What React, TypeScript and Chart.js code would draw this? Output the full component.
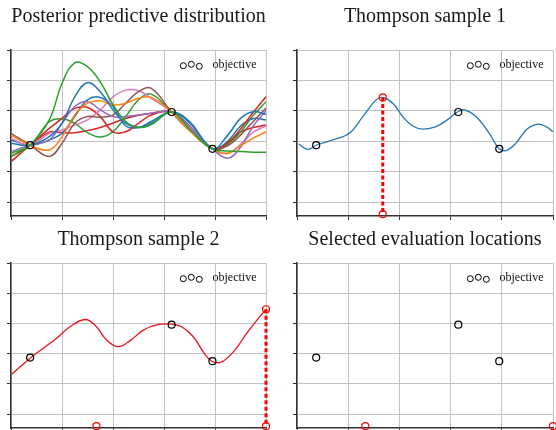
import React, { useEffect, useRef } from "react";
import { Chart, registerables } from "chart.js";

Chart.register(...registerables);

// ---------- axes ----------
const X_TICKS = [0, 0.2, 0.4, 0.6, 0.8, 1.0];
const Y_TICKS = [0, 1, 2, 3, 4, 5];
const Y_MIN = -0.46;
const Y_MAX = 5;

// ---------- observations ----------
const obsX = [0.075, 0.63, 0.79];
const obsY = [1.87, 2.96, 1.75];

// ---------- posterior samples ----------
const postX = [0, 0.075, 0.15, 0.2, 0.25, 0.3, 0.35, 0.4, 0.45, 0.5, 0.55, 0.63, 0.7, 0.79, 0.85, 0.9, 0.95, 1.0];
const postGreen1 = [1.49, 1.87, 2.7, 3.9, 4.58, 4.45, 3.95, 3.2, 2.65, 2.45, 2.55, 2.96, 2.4, 1.75, 1.68, 1.66, 1.64, 1.64];
const postBlue1 = [1.93, 1.87, 2.15, 2.59, 3.46, 3.93, 3.63, 3.03, 2.59, 2.46, 2.59, 2.96, 2.65, 1.75, 2.2, 2.75, 2.97, 2.88];
const postBlue2 = [2.04, 1.87, 2.04, 2.26, 2.81, 3.36, 3.44, 3.14, 2.5, 2.45, 2.65, 2.96, 2.6, 1.75, 2.0, 2.5, 2.75, 2.7];
const postOrange = [2.2, 1.87, 1.71, 2.15, 2.86, 3.25, 3.33, 3.19, 3.25, 3.41, 3.44, 2.96, 2.35, 1.75, 1.6, 1.85, 2.1, 2.31];
const postBrown = [2.26, 1.87, 1.5, 1.93, 2.59, 2.81, 2.79, 2.86, 3.25, 3.63, 3.74, 2.96, 2.35, 1.75, 1.85, 2.2, 2.65, 3.09];
const postPurple = [1.66, 1.87, 2.04, 2.59, 3.14, 3.3, 3.03, 2.81, 2.81, 2.86, 2.92, 2.96, 2.5, 1.75, 1.44, 1.8, 2.5, 3.0];
const postPink = [2.09, 1.87, 2.26, 2.37, 2.53, 2.7, 3.03, 3.46, 3.68, 3.66, 3.41, 2.96, 2.45, 1.75, 1.6, 1.9, 2.3, 2.5];
const postRed1 = [1.33, 1.87, 2.42, 2.75, 3.08, 3.11, 2.81, 2.31, 2.31, 2.59, 2.86, 2.96, 2.45, 1.75, 1.95, 2.4, 2.95, 3.46];
const postRed2 = [1.49, 1.87, 2.3, 2.28, 2.28, 2.35, 2.45, 2.6, 2.75, 2.85, 2.92, 2.96, 2.5, 1.75, 1.95, 2.3, 2.45, 2.53];
const postGreen2 = [1.6, 1.87, 2.64, 2.74, 2.59, 2.28, 2.14, 2.31, 2.81, 3.36, 3.55, 2.96, 2.45, 1.75, 1.9, 2.3, 2.85, 3.3];

// ---------- Thompson samples ----------
const ts1X = [0.007, 0.042, 0.077, 0.139, 0.204, 0.257, 0.309, 0.335, 0.374, 0.413, 0.452, 0.491, 0.543, 0.595, 0.628, 0.654, 0.699, 0.751, 0.788, 0.816, 0.855, 0.895, 0.94, 0.973, 1.0];
const ts1Y = [1.91, 1.73, 1.875, 2.04, 2.26, 2.81, 3.36, 3.44, 3.25, 2.81, 2.5, 2.4, 2.48, 2.75, 2.97, 3.03, 2.81, 2.26, 1.77, 1.69, 1.93, 2.37, 2.56, 2.48, 2.31];
const ts2X = [0.003, 0.075, 0.127, 0.179, 0.231, 0.29, 0.329, 0.375, 0.421, 0.467, 0.519, 0.571, 0.627, 0.669, 0.715, 0.754, 0.787, 0.826, 0.872, 0.924, 0.97, 1.0];
const ts2Y = [1.32, 1.85, 2.18, 2.51, 2.89, 3.13, 2.95, 2.45, 2.23, 2.43, 2.78, 2.95, 2.98, 2.89, 2.56, 2.06, 1.75, 1.73, 2.06, 2.67, 3.17, 3.47];

// ---------- selections ----------
const selX = [0.335, 1.0];
const selY = [3.44, 3.47];
const selBaseY = -0.4;
const evalX = [0.267, 1.0];

const C = {
  blue: "#1f77b4",
  orange: "#ff7f0e",
  green: "#2ca02c",
  red: "#d62728",
  purple: "#9467bd",
  brown: "#8c564b",
  pink: "#e377c2",
};

const zip = (xs: number[], ys: number[]) => xs.map((x, i) => ({ x, y: ys[i] }));

const lineDs = (data: any[], color: string, width = 1.5) => ({
  data,
  borderColor: color,
  backgroundColor: color,
  borderWidth: width,
  pointRadius: 0,
  fill: false,
  tension: 0.4,
  showLine: true,
});

const markerDs = (data: any[], color: string) => ({
  data,
  showLine: false,
  pointRadius: 3.5,
  pointHoverRadius: 3.5,
  pointBorderWidth: 1.2,
  pointBorderColor: color,
  pointBackgroundColor: "rgba(0,0,0,0)",
  borderColor: color,
  backgroundColor: "rgba(0,0,0,0)",
  clip: false,
});

const dashedDs = (x: number, yTop: number) => ({
  data: [
    { x, y: yTop },
    { x, y: selBaseY },
  ],
  borderColor: "#ff0000",
  borderWidth: 3,
  borderDash: [4, 2.5],
  pointRadius: 0,
  showLine: true,
  fill: false,
  clip: false,
});

const objLegend = {
  id: "objLegend",
  afterDraw(chart: any) {
    const { ctx, chartArea } = chart;
    const { top, right } = chartArea;
    ctx.save();
    ctx.strokeStyle = "#000";
    ctx.lineWidth = 1;
    const offs = [
      [-82.7, 15.7],
      [-74.7, 14.3],
      [-66.7, 16.3],
    ];
    for (const [dx, dy] of offs) {
      ctx.beginPath();
      ctx.arc(right + dx, top + dy, 3, 0, Math.PI * 2);
      ctx.stroke();
    }
    ctx.fillStyle = "#111";
    ctx.font = '12px "Liberation Serif"';
    ctx.textBaseline = "alphabetic";
    ctx.textAlign = "left";
    ctx.fillText("objective", right - 53.5, top + 18.3);
    ctx.restore();
  },
};

const gridOpts = {
  color: "#c2c2c2",
  lineWidth: 1,
  drawTicks: true,
  tickLength: 4,
  tickColor: "#333",
  tickWidth: 1,
};
const borderOpts = { display: true, color: "#333", width: 1.5 };

function makeConfig(title: string, datasets: any[], titlePad: any, pad: any) {
  return {
    type: "line",
    data: { datasets },
    options: {
      animation: false,
      responsive: false,
      maintainAspectRatio: false,
      events: [],
      layout: { padding: pad, autoPadding: false },
      plugins: {
        legend: { display: false },
        tooltip: { enabled: false },
        title: {
          display: true,
          text: title,
          fullSize: false,
          color: "#1a1a1a",
          font: { family: '"Liberation Serif"', size: 20, weight: "normal", lineHeight: 1.2 },
          padding: titlePad,
        },
      },
      scales: {
        x: {
          type: "linear",
          min: 0,
          max: 1,
          afterBuildTicks: (s: any) => {
            s.ticks = X_TICKS.map((v) => ({ value: v }));
          },
          ticks: { display: false },
          grid: gridOpts,
          border: borderOpts,
        },
        y: {
          type: "linear",
          min: Y_MIN,
          max: Y_MAX,
          afterBuildTicks: (s: any) => {
            s.ticks = Y_TICKS.map((v) => ({ value: v }));
          },
          ticks: { display: false },
          grid: gridOpts,
          border: borderOpts,
        },
      },
    },
    plugins: [objLegend],
  } as any;
}

const TOP_TITLE_PAD = { top: 4.5, bottom: 21.5 };
const BOT_TITLE_PAD = { top: 5.75, bottom: 11.25 };
const PAD_L = { left: 7, right: 4, top: 0, bottom: 2 };
const PAD_R = { left: 7, right: 3, top: 0, bottom: 2 };
const PAD_L2 = { left: 7, right: 4, top: 0, bottom: 4 };
const PAD_R2 = { left: 7, right: 3, top: 0, bottom: 4 };

const obsPts = () => zip(obsX, obsY);

function build1() {
  const samples: [number[], string][] = [
    [postGreen1, C.green],
    [postBlue1, C.blue],
    [postOrange, C.orange],
    [postPurple, C.purple],
    [postBrown, C.brown],
    [postPink, C.pink],
    [postRed1, C.red],
    [postBlue2, C.blue],
    [postGreen2, C.green],
    [postRed2, C.red],
  ];
  const ds: any[] = [markerDs(obsPts(), "#000")];
  for (const [ys, col] of samples) ds.push(lineDs(zip(postX, ys), col));
  return makeConfig("Posterior predictive distribution", ds, TOP_TITLE_PAD, PAD_L);
}

function build2() {
  const ds: any[] = [
    markerDs(obsPts(), "#000"),
    markerDs(
      [
        { x: selX[0], y: selY[0] },
        { x: selX[0], y: selBaseY },
      ],
      "#ff0000"
    ),
    dashedDs(selX[0], selY[0]),
    lineDs(zip(ts1X, ts1Y), C.blue, 1.3),
  ];
  return makeConfig("Thompson sample 1", ds, TOP_TITLE_PAD, PAD_R);
}

function build3() {
  const ds: any[] = [
    markerDs(obsPts(), "#000"),
    markerDs(
      [
        { x: selX[0], y: selBaseY },
        { x: selX[1], y: selY[1] },
        { x: selX[1], y: selBaseY },
      ],
      "#ff0000"
    ),
    dashedDs(selX[1], selY[1]),
    lineDs(zip(ts2X, ts2Y), "#e8161b", 1.3),
  ];
  return makeConfig("Thompson sample 2", ds, BOT_TITLE_PAD, PAD_L2);
}

function build4() {
  const ds: any[] = [
    markerDs(obsPts(), "#000"),
    markerDs(
      evalX.map((x) => ({ x, y: selBaseY })),
      "#ff0000"
    ),
  ];
  return makeConfig("Selected evaluation locations", ds, BOT_TITLE_PAD, PAD_R2);
}

function Panel(props: { left: number; top: number; width: number; height: number; build: () => any }) {
  const ref = useRef<HTMLCanvasElement | null>(null);
  useEffect(() => {
    const chart = new Chart(ref.current as HTMLCanvasElement, props.build());
    return () => chart.destroy();
  }, []);
  return (
    <canvas
      ref={ref}
      width={props.width}
      height={props.height}
      style={{ position: "absolute", left: props.left, top: props.top, width: props.width, height: props.height }}
    />
  );
}

export default function App() {
  return (
    <div
      style={{
        position: "absolute",
        left: 0,
        top: 0,
        width: 556,
        height: 430,
        overflow: "hidden",
        background: "#fff",
      }}
    >
      <Panel left={0} top={0} width={270} height={222} build={build1} />
      <Panel left={286} top={0} width={270} height={222} build={build2} />
      <Panel left={0} top={222} width={270} height={214} build={build3} />
      <Panel left={286} top={222} width={270} height={214} build={build4} />
    </div>
  );
}
